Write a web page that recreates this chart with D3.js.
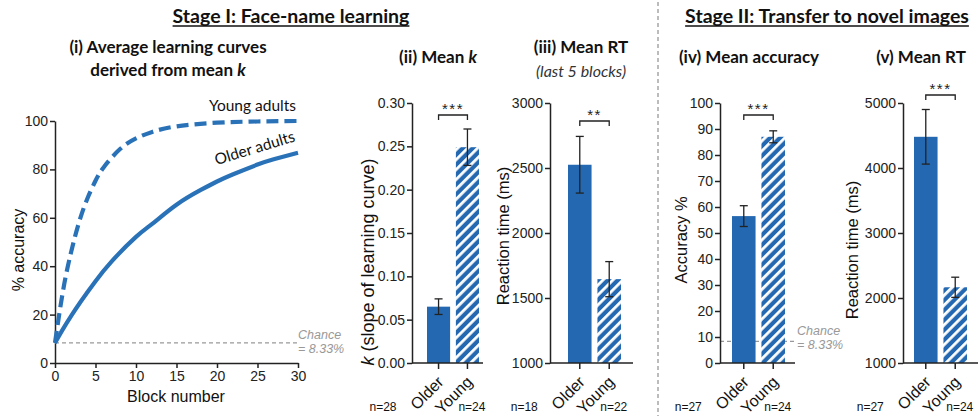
<!DOCTYPE html>
<html>
<head>
<meta charset="utf-8">
<script src="https://cdn.jsdelivr.net/npm/d3@7"></script>
<style>
  body { margin: 0; background: #fff; }
  svg { display: block; }
  .tick text { font-family: "Liberation Sans", Arial, sans-serif; font-size: 14px; fill: #222; }
  .domain, .tick line { stroke: #222; stroke-width: 1.5px; }
</style>
</head>
<body>
<svg id="plotSvg" width="978" height="416"></svg>
<script>
// learning curves
const blocksYoung = [0, 1, 2, 3, 4, 5, 6, 8, 10, 12, 15, 20, 25, 30];
const accYoung = [8.3, 30, 46, 58.5, 68, 75.3, 80.8, 88.3, 92.8, 95.5, 97.8, 99.3, 99.8, 100];
const blocksOlder = [0, 1, 2, 3, 4, 5, 7, 10, 12, 15, 18, 20, 22, 25, 27, 30];
const accOlder = [8.3, 14.1, 19.5, 24.5, 29.2, 33.8, 42, 52.1, 57.5, 65.4, 71.5, 75, 78, 82, 84.2, 86.9];
const chance = 8.33;

const groups = ["Older", "Young"];
// (ii) mean k
const kMean = [0.065, 0.249];
const kErr = [0.009, 0.021];
const kN = [28, 24];
// (iii) mean RT, last 5 blocks
const rtLearnMean = [2525, 1645];
const rtLearnErr = [218, 135];
const rtLearnN = [18, 22];
// (iv) transfer accuracy
const accTransMean = [56.5, 87];
const accTransErr = [4, 2.3];
const accTransN = [27, 24];
// (v) transfer RT
const rtTransMean = [4480, 2165];
const rtTransErr = [420, 155];
const rtTransN = [27, 24];

const blue = "#2368b1";
const lineBlue = "#2a72b8";
const titleFont = "Lato, 'Open Sans', sans-serif";
const axisFont = "'Liberation Sans', Arial, sans-serif";

const svg = d3.select("#plotSvg");

const defs = svg.append("defs");
const pat = defs.append("pattern")
    .attr("id", "stripes")
    .attr("patternUnits", "userSpaceOnUse")
    .attr("width", 7).attr("height", 7)
    .attr("patternTransform", "rotate(45)");
pat.append("rect").attr("width", 7).attr("height", 7).attr("fill", blue);
pat.append("rect").attr("x", 0).attr("width", 2.8).attr("height", 7).attr("fill", "#fff");

// headings
function heading(x, y, txt) {
    const t = svg.append("text")
        .attr("x", x).attr("y", y)
        .attr("text-anchor", "middle")
        .attr("font-family", titleFont)
        .attr("font-weight", "bold")
        .attr("font-size", 19.5)
        .attr("fill", "#111")
        .text(txt);
    const w = t.node().getComputedTextLength();
    svg.append("line")
        .attr("x1", x - w / 2).attr("x2", x + w / 2)
        .attr("y1", y + 3).attr("y2", y + 3)
        .attr("stroke", "#111").attr("stroke-width", 1.3);
}
heading(291, 23, "Stage I: Face-name learning");
heading(827, 23, "Stage II: Transfer to novel images");

// divider between stages
svg.append("line")
    .attr("x1", 658).attr("x2", 658)
    .attr("y1", 2).attr("y2", 416)
    .attr("stroke", "#999").attr("stroke-width", 1.3)
    .attr("stroke-dasharray", "4,3");

function panelTitle(x, y, parts, size) {
    const t = svg.append("text")
        .attr("x", x).attr("y", y)
        .attr("text-anchor", "middle")
        .attr("font-family", titleFont)
        .attr("font-weight", "bold")
        .attr("font-size", size || 17)
        .attr("fill", "#111");
    parts.forEach(p => {
        t.append("tspan").attr("font-style", p.it ? "italic" : null).text(p.t);
    });
    return t;
}

// ---------- panel (i) ----------
const xCurve = d3.scaleLinear().domain([0, 30]).range([55, 298]);
const yCurve = d3.scaleLinear().domain([0, 100]).range([363, 121]);

panelTitle(168, 53, [{ t: "(i) Average learning curves" }]);
panelTitle(168, 76, [{ t: "derived from mean " }, { t: "k", it: true }]);

const gI = svg.append("g");
gI.append("g")
    .attr("transform", "translate(0,363)")
    .call(d3.axisBottom(xCurve).tickValues([0, 5, 10, 15, 20, 25, 30]).tickSize(5).tickSizeOuter(0).tickPadding(3));
gI.append("g")
    .attr("transform", "translate(55,0)")
    .call(d3.axisLeft(yCurve).tickValues([0, 20, 40, 60, 80, 100]).tickSize(5).tickSizeOuter(0).tickPadding(2));

gI.append("line")
    .attr("x1", xCurve(0)).attr("x2", xCurve(30))
    .attr("y1", yCurve(chance)).attr("y2", yCurve(chance))
    .attr("stroke", "#999").attr("stroke-width", 1.3).attr("stroke-dasharray", "4,3");

function chanceText(g, x, y) {
    [["Chance", 0], ["= 8.33%", 14]].forEach(([s, dy]) => {
        g.append("text")
            .attr("x", x).attr("y", y + dy)
            .attr("font-family", axisFont).attr("font-style", "italic")
            .attr("font-size", 12.5).attr("fill", "#999")
            .text(s);
    });
}
chanceText(gI, 298, 339);

const line = d3.line().curve(d3.curveNatural).x(d => xCurve(d[0])).y(d => yCurve(d[1]));
gI.append("path")
    .datum(blocksOlder.map((b, i) => [b, accOlder[i]]))
    .attr("d", line).attr("fill", "none")
    .attr("stroke", lineBlue).attr("stroke-width", 4.2);
gI.append("path")
    .datum(blocksYoung.map((b, i) => [b, accYoung[i]]))
    .attr("d", line).attr("fill", "none")
    .attr("stroke", lineBlue).attr("stroke-width", 4.2)
    .attr("stroke-dasharray", "12,6");

gI.append("text")
    .attr("x", 296).attr("y", 111).attr("text-anchor", "end")
    .attr("font-family", titleFont).attr("font-size", 15.5).attr("fill", "#111")
    .text("Young adults");
gI.append("text")
    .attr("transform", "translate(296,141) rotate(-17)")
    .attr("text-anchor", "end")
    .attr("font-family", titleFont).attr("font-size", 15.5).attr("fill", "#111")
    .text("Older adults");

gI.append("text")
    .attr("x", 176).attr("y", 402).attr("text-anchor", "middle")
    .attr("font-family", axisFont).attr("font-size", 16).attr("fill", "#111")
    .text("Block number");
gI.append("text")
    .attr("transform", "translate(24,250) rotate(-90)")
    .attr("text-anchor", "middle")
    .attr("font-family", axisFont).attr("font-size", 16).attr("fill", "#111")
    .text("% accuracy");

// ---------- bar panels ----------
function barPanel(o) {
    const g = svg.append("g");
    const x = d3.scaleBand().domain(groups).range(o.barRange).paddingInner(0.2).paddingOuter(0);
    const y = d3.scaleLinear().domain(o.domain).range([363, 103]);

    if (o.chance) {
        g.append("line")
            .attr("x1", o.axisX).attr("x2", o.axisEnd)
            .attr("y1", y(chance)).attr("y2", y(chance))
            .attr("stroke", "#999").attr("stroke-width", 1.3).attr("stroke-dasharray", "4,3");
    }

    g.selectAll(".bar")
        .data(groups)
        .enter().append("rect")
        .attr("class", "bar")
        .attr("x", d => x(d))
        .attr("width", x.bandwidth())
        .attr("y", (d, i) => y(o.mean[i]))
        .attr("height", (d, i) => y(o.domain[0]) - y(o.mean[i]))
        .attr("fill", (d, i) => i === 0 ? blue : "url(#stripes)");

    if (o.chance) {
        chanceText(g, o.axisEnd + 2, 335);
    }

    // error bars
    groups.forEach((d, i) => {
        const cx = x(d) + x.bandwidth() / 2;
        const lo = y(o.mean[i] - o.err[i]), hi = y(o.mean[i] + o.err[i]);
        g.append("line").attr("x1", cx).attr("x2", cx).attr("y1", lo).attr("y2", hi)
            .attr("stroke", "#222").attr("stroke-width", 1.3);
        [lo, hi].forEach(yy => {
            g.append("line").attr("x1", cx - 4).attr("x2", cx + 4).attr("y1", yy).attr("y2", yy)
                .attr("stroke", "#222").attr("stroke-width", 1.3);
        });
    });

    // axes
    g.append("g")
        .attr("transform", `translate(${o.axisX},0)`)
        .call(d3.axisLeft(y).tickValues(o.ticks).tickFormat(o.fmt).tickSize(5).tickSizeOuter(0).tickPadding(2));
    g.append("line")
        .attr("x1", o.axisX).attr("x2", o.axisEnd)
        .attr("y1", 363).attr("y2", 363)
        .attr("stroke", "#222").attr("stroke-width", 1.5);
    groups.forEach(d => {
        const cx = x(d) + x.bandwidth() / 2;
        g.append("line").attr("x1", cx).attr("x2", cx).attr("y1", 363).attr("y2", 369)
            .attr("stroke", "#222").attr("stroke-width", 1.5);
        g.append("text")
            .attr("transform", `translate(${cx + 6},${383}) rotate(-45)`)
            .attr("text-anchor", "end")
            .attr("font-family", axisFont).attr("font-size", 16).attr("fill", "#111")
            .text(d);
    });
    const c0 = x(groups[0]) + x.bandwidth() / 2, c1 = x(groups[1]) + x.bandwidth() / 2;
    g.append("text")
        .attr("x", c0 - 42).attr("y", 411).attr("text-anchor", "end")
        .attr("font-family", axisFont).attr("font-size", 12).attr("fill", "#111")
        .text("n=" + o.n[0]);
    g.append("text")
        .attr("x", c1 - 9).attr("y", 411).attr("text-anchor", "start")
        .attr("font-family", axisFont).attr("font-size", 12).attr("fill", "#111")
        .text("n=" + o.n[1]);

    // significance bracket
    const by = o.bracketY;
    g.append("path")
        .attr("d", `M${c0},${by + 5}V${by}H${c1}V${by + 5}`)
        .attr("fill", "none").attr("stroke", "#222").attr("stroke-width", 1.3);
    g.append("text")
        .attr("x", (c0 + c1) / 2).attr("y", by - 1).attr("text-anchor", "middle")
        .attr("font-family", axisFont).attr("font-size", 15).attr("fill", "#222")
        .attr("letter-spacing", 1.5)
        .text(o.stars);

    // y label
    const yl = g.append("text")
        .attr("transform", `translate(${o.labelX},${o.labelY}) rotate(-90)`)
        .attr("text-anchor", "middle")
        .attr("font-family", axisFont).attr("font-size", o.labelSize || 16.5).attr("fill", "#111");
    o.label.forEach(p => yl.append("tspan").attr("font-style", p.it ? "italic" : null).text(p.t));
    return g;
}

panelTitle(438, 63, [{ t: "(ii) Mean " }, { t: "k", it: true }]);
barPanel({
    axisX: 412, axisEnd: 483, barRange: [427, 479],
    domain: [0, 0.30], ticks: [0, 0.05, 0.10, 0.15, 0.20, 0.25, 0.30], fmt: d3.format(".2f"),
    mean: kMean, err: kErr, n: kN, bracketY: 115, stars: "***",
    label: [{ t: "k", it: true }, { t: " (slope of learning curve)" }], labelX: 374, labelY: 262, labelSize: 18
});

panelTitle(581, 53, [{ t: "(iii) Mean RT" }]);
svg.append("text")
    .attr("x", 581).attr("y", 77).attr("text-anchor", "middle")
    .attr("font-family", titleFont).attr("font-style", "italic").attr("font-size", 16)
    .attr("fill", "#333").text("(last 5 blocks)");
barPanel({
    axisX: 550, axisEnd: 633, barRange: [568, 621],
    domain: [1000, 3000], ticks: [1000, 1500, 2000, 2500, 3000], fmt: d3.format("d"),
    mean: rtLearnMean, err: rtLearnErr, n: rtLearnN, bracketY: 121, stars: "**",
    label: [{ t: "Reaction time (ms)" }], labelX: 509, labelY: 236
});

panelTitle(749, 63, [{ t: "(iv) Mean accuracy" }]);
barPanel({
    axisX: 720, axisEnd: 795, barRange: [732, 785], chance: true,
    domain: [0, 100], ticks: d3.range(0, 101, 10), fmt: d3.format("d"),
    mean: accTransMean, err: accTransErr, n: accTransN, bracketY: 115, stars: "***",
    label: [{ t: "Accuracy %" }], labelX: 687, labelY: 240
});

panelTitle(921, 63, [{ t: "(v) Mean RT" }]);
barPanel({
    axisX: 903, axisEnd: 980, barRange: [914, 967],
    domain: [1000, 5000], ticks: [1000, 2000, 3000, 4000, 5000], fmt: d3.format("d"),
    mean: rtTransMean, err: rtTransErr, n: rtTransN, bracketY: 95, stars: "***",
    label: [{ t: "Reaction time (ms)" }], labelX: 858, labelY: 250
});
</script>
</body>
</html>
